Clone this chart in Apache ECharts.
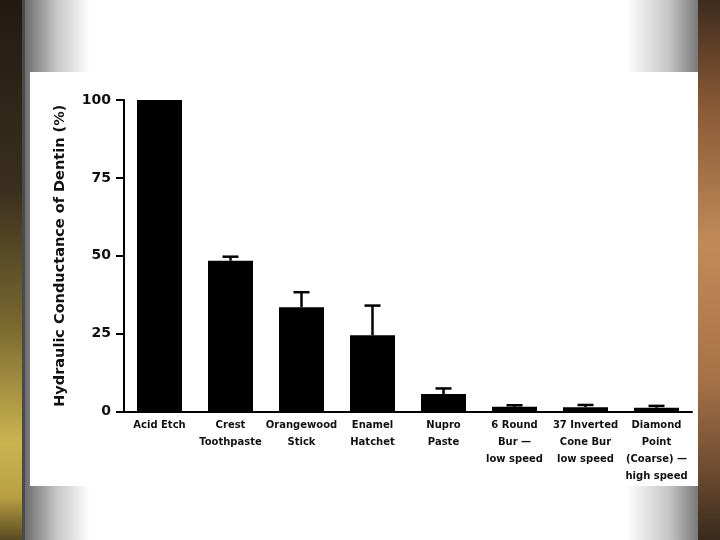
<!DOCTYPE html>
<html>
<head>
<meta charset="utf-8">
<script src="https://cdn.jsdelivr.net/npm/echarts@6/dist/echarts.min.js"></script>
<style>html,body{margin:0;padding:0;background:#000;}#c{width:720px;height:540px;}</style>
</head>
<body>
<div id="c"></div>
<script>
const categories = [
  'Acid Etch',
  'Crest\nToothpaste',
  'Orangewood\nStick',
  'Enamel\nHatchet',
  'Nupro\nPaste',
  '6 Round\nBur —\nlow speed',
  '37 Inverted\nCone Bur\nlow speed',
  'Diamond\nPoint\n(Coarse) —\nhigh speed'
];
const meanValues = [100, 48.4, 33.5, 24.5, 5.6, 1.5, 1.4, 1.2];
const errorTops = [null, 49.7, 38.3, 34.0, 7.4, 2.0, 2.1, 1.8];
const yTicks = [0, 25, 50, 75, 100];
const yAxisTitle = 'Hydraulic Conductance of Dentin (%)';

const FONT = 'DejaVu Sans';
const chart = echarts.init(document.getElementById('c'), null, {renderer: 'canvas'});

const errData = [];
errorTops.forEach((t, i) => { if (t !== null) errData.push([i, meanValues[i], t]); });

chart.setOption({
  animation: false,
  backgroundColor: {
    type: 'linear', x: 0, y: 0, x2: 1, y2: 0,
    colorStops: [
      {offset: 0, color: '#6a6a6a'},
      {offset: 0.035, color: '#6e6e6e'},
      {offset: 0.08, color: '#c8c8c8'},
      {offset: 0.125, color: '#ffffff'},
      {offset: 0.87, color: '#ffffff'},
      {offset: 0.93, color: '#c4c4c4'},
      {offset: 0.968, color: '#7c7c7c'},
      {offset: 1, color: '#7c7c7c'}
    ]
  },
  graphic: [
    {type: 'rect', z: -10, silent: true, shape: {x: 0, y: 0, width: 22, height: 540},
      style: {fill: {type: 'linear', x: 0, y: 0, x2: 0, y2: 1, colorStops: [
        {offset: 0, color: '#221a12'}, {offset: 0.35, color: '#3a2f1e'},
        {offset: 0.6, color: '#7a6830'}, {offset: 0.82, color: '#c9b450'},
        {offset: 0.92, color: '#b8a042'}, {offset: 1, color: '#5a4a22'}]}}},
    {type: 'rect', z: -10, silent: true, shape: {x: 22, y: 0, width: 3, height: 540},
      style: {fill: '#4a4a4a'}},
    {type: 'rect', z: -10, silent: true, shape: {x: 698, y: 0, width: 22, height: 540},
      style: {fill: {type: 'linear', x: 0, y: 0, x2: 0, y2: 1, colorStops: [
        {offset: 0, color: '#3e2c1e'}, {offset: 0.2, color: '#8a5a36'},
        {offset: 0.45, color: '#c08a5a'}, {offset: 0.7, color: '#a87248'},
        {offset: 0.88, color: '#6a4a30'}, {offset: 1, color: '#3a2a1c'}]}}},
    {type: 'rect', z: -10, silent: true, shape: {x: 30, y: 72, width: 668, height: 414},
      style: {fill: '#ffffff'}}
  ],
  grid: {left: 124, right: 28, top: 100, bottom: 128.5, containLabel: false},
  xAxis: {
    type: 'category',
    data: categories,
    axisLine: {show: true, lineStyle: {color: '#000', width: 2}},
    axisTick: {show: false},
    splitLine: {show: false},
    axisLabel: {
      interval: 0, margin: 5, color: '#111',
      fontFamily: FONT, fontWeight: 'bold', fontSize: 10, lineHeight: 17
    }
  },
  yAxis: {
    type: 'value', min: 0, max: 100, interval: 25,
    name: yAxisTitle, nameLocation: 'middle', nameRotate: 90, nameGap: 56,
    nameTextStyle: {color: '#111', fontFamily: FONT, fontWeight: 'bold', fontSize: 14.5},
    axisLine: {show: true, lineStyle: {color: '#000', width: 2}},
    axisTick: {show: true, inside: false, length: 8, lineStyle: {color: '#000', width: 2}},
    splitLine: {show: false},
    axisLabel: {
      margin: 13, color: '#111', fontFamily: FONT, fontWeight: 'bold', fontSize: 14,
      formatter: v => yTicks.indexOf(v) >= 0 ? String(v) : ''
    }
  },
  series: [
    {
      type: 'bar', data: meanValues, barWidth: 45,
      itemStyle: {color: '#000'}, z: 2
    },
    {
      type: 'custom', z: 3,
      data: errData,
      renderItem: function (params, api) {
        const base = api.coord([api.value(0), api.value(1)]);
        const top = api.coord([api.value(0), api.value(2)]);
        const hw = 8;
        return {
          type: 'group',
          children: [
            {type: 'line', shape: {x1: base[0], y1: base[1], x2: top[0], y2: top[1]},
              style: {stroke: '#000', lineWidth: 2.5}},
            {type: 'line', shape: {x1: top[0] - hw, y1: top[1], x2: top[0] + hw, y2: top[1]},
              style: {stroke: '#000', lineWidth: 2.5}}
          ]
        };
      }
    }
  ]
});
</script>
</body>
</html>
